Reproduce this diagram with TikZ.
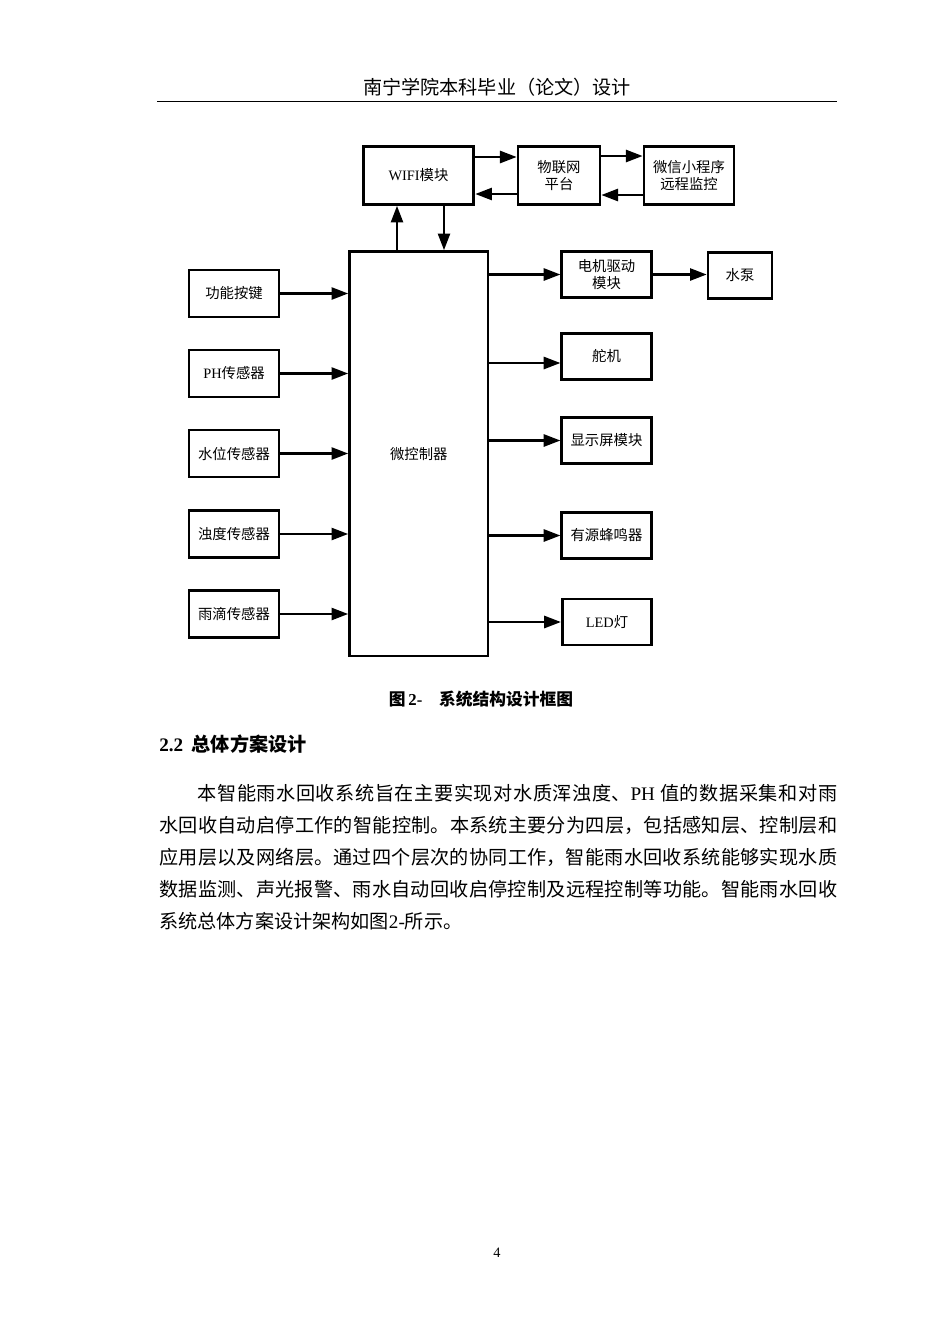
\documentclass[tikz,border=0pt]{standalone}
\usepackage{fontspec}
\setmainfont{Noto Sans CJK SC}
\newfontfamily\latinfont{Liberation Serif}
\usetikzlibrary{arrows.meta,calc}
\XeTeXlinebreaklocale "zh"
\XeTeXlinebreakskip=0pt plus 1pt minus 0.1pt

\begin{document}
\begin{tikzpicture}[x=0.627pt,y=0.627pt,yscale=-1,xscale=1,
  blk/.style={draw, line width=1.7pt, inner sep=0pt, align=center, font=\fontsize{9pt}{11pt}\selectfont},
  sensor/.style={blk, minimum width=56.4pt, minimum height=29.5pt},
  output/.style={blk, minimum width=56pt, minimum height=28.8pt},
  flow/.style={line width=1.7pt, -{Triangle[length=10.5pt,width=7.5pt]}}]
%set page size
\fill[white] (0,0) rectangle (950,1344);
\useasboundingbox (0,0) rectangle (950,1344);

% Header
\node (header) at (497,87) {\fontsize{12pt}{14pt}\selectfont 南宁学院本科毕业（论文）设计};
\draw [line width=0.6pt] (157,101) -- (837,101);

%Shape: top row
\node [blk, minimum width=69.4pt, minimum height=36.2pt] (wifi) at (418.5,175.5) {{\latinfont WIFI}模块};
\node [blk, minimum width=51.3pt, minimum height=36.2pt] (iot) at (559,175.5) {物联网\\平台};
\node [blk, minimum width=56.4pt, minimum height=36.2pt] (wechat) at (689,175.5) {微信小程序\\远程监控};

%Shape: controller
\node [blk, minimum width=86.7pt, minimum height=253.5pt] (mcu) at (418.75,453.75) {微控制器};

%Shape: inputs
\node [sensor] (key) at (234,293.5) {功能按键};
\node [sensor] (ph) at (234,373.5) {{\latinfont PH}传感器};
\node [sensor] (level) at (234,453.5) {水位传感器};
\node [sensor] (turb) at (234,534) {浊度传感器};
\node [sensor] (rain) at (234,614) {雨滴传感器};

%Shape: outputs
\node [output] (motor) at (606.5,274.5) {电机驱动\\模块};
\node [blk, minimum width=40pt, minimum height=28.8pt] (pump) at (740,275.5) {水泵};
\node [output] (servo) at (606.5,356.5) {舵机};
\node [output] (lcd) at (606.5,440.5) {显示屏模块};
\node [output] (buzzer) at (606.5,535.5) {有源蜂鸣器};
\node [output] (led) at (607,622) {{\latinfont LED}灯};

%Straight Lines: network
\draw [flow] ($(wifi.east)+(0,-18.5)$) -- ($(iot.west)+(0,-18.5)$);
\draw [flow] ($(iot.west)+(0,18.5)$) -- ($(wifi.east)+(0,18.5)$);
\draw [flow] ($(iot.east)+(0,-19.5)$) -- ($(wechat.west)+(0,-19.5)$);
\draw [flow] ($(wechat.west)+(0,19.5)$) -- ($(iot.east)+(0,19.5)$);
\coordinate (wifiup) at ($(wifi.south)+(-21.5,0)$);
\coordinate (wifidn) at ($(wifi.south)+(25.5,0)$);
\draw [flow] (wifiup |- mcu.north) -- (wifiup);
\draw [flow] (wifidn) -- (wifidn |- mcu.north);

%Straight Lines: inputs
\draw [flow] (key.east) -- (key.east -| mcu.west);
\draw [flow] (ph.east) -- (ph.east -| mcu.west);
\draw [flow] (level.east) -- (level.east -| mcu.west);
\draw [flow] (turb.east) -- (turb.east -| mcu.west);
\draw [flow] (rain.east) -- (rain.east -| mcu.west);

%Straight Lines: outputs
\draw [flow] (motor.west -| mcu.east) -- (motor.west);
\draw [flow] (motor.east) -- (motor.east -| pump.west);
\coordinate (servoin) at ($(servo.west)+(0,6.5)$);
\draw [flow] (servoin -| mcu.east) -- (servoin);
\draw [flow] (lcd.west -| mcu.east) -- (lcd.west);
\draw [flow] (buzzer.west -| mcu.east) -- (buzzer.west);
\draw [flow] (led.west -| mcu.east) -- (led.west);

% Text Node
\node [font=\fontsize{10.5pt}{12pt}\selectfont\bfseries] (caption) at (481,699) {图\,{\latinfont\bfseries 2-}\hspace{1em}系统结构设计框图};
% Text Node
\node [anchor=west, inner sep=0pt, font=\fontsize{12pt}{14pt}\selectfont\bfseries] (sec) at (159,744) {{\latinfont\bfseries 2.2}\hspace{0.45em}总体方案设计};
% Text Node
\node [anchor=north west, inner sep=0pt, text width=425pt, align=justify, font=\fontsize{12pt}{20pt}\selectfont] (body) at (159,784) {\hspace*{2em}本智能雨水回收系统旨在主要实现对水质浑浊度、{\latinfont PH} 值的数据采集和对雨\linebreak 水回收自动启停工作的智能控制。本系统主要分为四层，包括感知层、控制层和\linebreak 应用层以及网络层。通过四个层次的协同工作，智能雨水回收系统能够实现水质\linebreak 数据监测、声光报警、雨水自动回收启停控制及远程控制等功能。智能雨水回收\linebreak 系统总体方案设计架构如图{\latinfont 2-}所示。};
% Text Node
\node [font=\fontsize{9pt}{11pt}\selectfont\latinfont] (pagenum) at (497,1253) {4};

\end{tikzpicture}
\end{document}
